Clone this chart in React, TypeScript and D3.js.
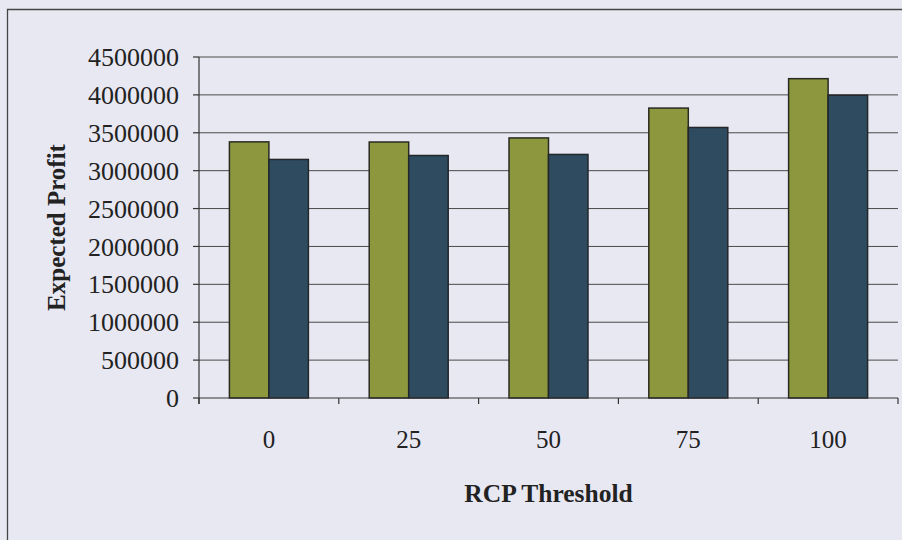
import React from "react";
import * as d3 from "d3";

const categories = ["0", "25", "50", "75", "100"];
const seriesA = [3380000, 3378000, 3432000, 3826000, 4214000];
const seriesB = [3148000, 3200000, 3214000, 3570000, 3996000];
const yTicks = [0, 500000, 1000000, 1500000, 2000000, 2500000, 3000000, 3500000, 4000000, 4500000];
const xTitle = "RCP Threshold";
const yTitle = "Expected Profit";

const W = 902;
const H = 540;
const left = 199;
const right = 898;
const top = 57;
const bottom = 398;
const font = "'Liberation Serif', 'Times New Roman', serif";
const colA = "#8c973e";
const colB = "#2f4b5f";
const bg = "#e8e8f2";

export default function App() {
  const x = d3.scaleBand<string>().domain(categories).range([left, right]).paddingInner(0).paddingOuter(0);
  const inner = d3.scaleBand<string>().domain(["a", "b"]).range([0, x.bandwidth()]).paddingOuter(0.77).paddingInner(0);
  const y = d3.scaleLinear().domain([0, 4500000]).range([bottom, top]);
  const bounds = categories.map((c) => x(c) as number).concat([right]);

  return (
    <div style={{ position: "fixed", left: 0, top: 0, width: W, height: H }}>
      <svg width={W} height={H} style={{ display: "block" }}>
        <rect x={0} y={0} width={W} height={H} fill={bg} />
        {/* frame */}
        <path d={`M7.5,${H + 2} V9.5 H${W + 2}`} fill="none" stroke="#444" strokeWidth={1.3} />
        {/* gridlines */}
        {yTicks.slice(1).map((t) => (
          <line key={t} x1={left} x2={right} y1={y(t)} y2={y(t)} stroke="#4a4a4a" strokeWidth={1} />
        ))}
        {/* bars */}
        {categories.map((c, i) => (
          <g key={c} transform={`translate(${x(c)},0)`}>
            <rect
              x={inner("a")}
              y={y(seriesA[i])}
              width={inner.bandwidth()}
              height={bottom - y(seriesA[i])}
              fill={colA}
              stroke="#2a2a22"
              strokeWidth={1.5}
            />
            <rect
              x={inner("b")}
              y={y(seriesB[i])}
              width={inner.bandwidth()}
              height={bottom - y(seriesB[i])}
              fill={colB}
              stroke="#22272a"
              strokeWidth={1.5}
            />
          </g>
        ))}
        {/* axes */}
        <line x1={left} x2={left} y1={top} y2={bottom + 6} stroke="#333" strokeWidth={1.2} />
        <line x1={left} x2={right} y1={bottom} y2={bottom} stroke="#333" strokeWidth={1.2} />
        {yTicks.map((t) => (
          <g key={t}>
            <line x1={left - 6} x2={left} y1={y(t)} y2={y(t)} stroke="#333" strokeWidth={1.2} />
            <text
              x={179}
              y={y(t)}
              dy="0.35em"
              textAnchor="end"
              fontFamily={font}
              fontSize={26}
              fill="#222"
            >
              {t}
            </text>
          </g>
        ))}
        {bounds.map((b, i) => (
          <line key={i} x1={b} x2={b} y1={bottom} y2={bottom + 6} stroke="#333" strokeWidth={1.2} />
        ))}
        {categories.map((c) => (
          <text
            key={c}
            x={(x(c) as number) + x.bandwidth() / 2}
            y={448}
            textAnchor="middle"
            fontFamily={font}
            fontSize={25}
            fill="#222"
          >
            {c}
          </text>
        ))}
        <text
          x={(left + right) / 2}
          y={502}
          textAnchor="middle"
          fontFamily={font}
          fontSize={25.5}
          fontWeight="bold"
          fill="#222"
        >
          {xTitle}
        </text>
        <text
          transform={`translate(65,${(top + bottom) / 2}) rotate(-90)`}
          textAnchor="middle"
          fontFamily={font}
          fontSize={25}
          fontWeight="bold"
          fill="#222"
        >
          {yTitle}
        </text>
      </svg>
    </div>
  );
}
